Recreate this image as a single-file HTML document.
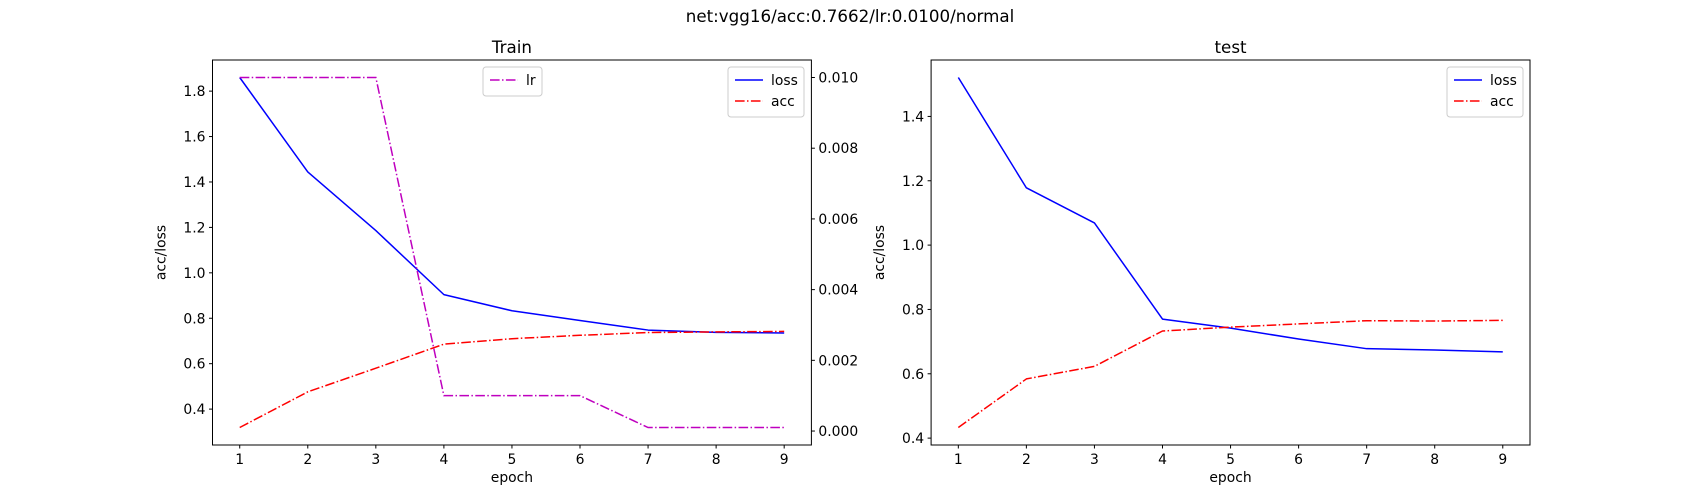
<!DOCTYPE html>
<html><head><meta charset="utf-8">
<style>
html,body{margin:0;padding:0;background:#fff;}
svg{display:block;font-family:"DejaVu Sans","Liberation Sans",sans-serif;}
</style></head>
<body>
<svg id="fig" width="1700" height="500" viewBox="0 0 1700 500" xmlns="http://www.w3.org/2000/svg">
<rect width="1700" height="500" fill="#fff"/>
<text x="850" y="22" text-anchor="middle" font-size="16.7">net:vgg16/acc:0.7662/lr:0.0100/normal</text>
</svg>
<script>
const epochs = [1,2,3,4,5,6,7,8,9];
const trainLoss = [1.860,1.444,1.186,0.904,0.833,0.790,0.748,0.738,0.735];
const trainAcc = [0.319,0.476,0.580,0.686,0.710,0.725,0.737,0.740,0.742];
const trainLr = [0.01,0.01,0.01,0.001,0.001,0.001,0.0001,0.0001,0.0001];
const testLoss = [1.521,1.178,1.069,0.770,0.742,0.708,0.678,0.674,0.668];
const testAcc = [0.433,0.584,0.623,0.733,0.745,0.755,0.765,0.764,0.766];
const xTicks = [1,2,3,4,5,6,7,8,9];
const trainYTicks = [0.4,0.6,0.8,1.0,1.2,1.4,1.6,1.8];
const testYTicks = [0.4,0.6,0.8,1.0,1.2,1.4];
const lrTicks = [0,0.002,0.004,0.006,0.008,0.010];

const NS = "http://www.w3.org/2000/svg";
const svg = document.getElementById('fig');
function el(tag, attrs, parent){
  const e = document.createElementNS(NS, tag);
  for (const k in attrs) e.setAttribute(k, attrs[k]);
  (parent||svg).appendChild(e);
  return e;
}
function ext(arrs){
  let mn=Infinity,mx=-Infinity;
  arrs.forEach(a=>a.forEach(v=>{mn=Math.min(mn,v);mx=Math.max(mx,v);}));
  const m=(mx-mn)*0.05; return [mn-m,mx+m];
}
const TOP=60, BOT=445;
const DASH="9.6,2.4,1.5,2.4";

function drawAxes(name, L, R, title, series, yTicks, right){
  const g = el('g',{});
  
  
  const xd = ext([epochs]);
  const xs = v => L + (v-xd[0])/(xd[1]-xd[0])*(R-L);
  const yd = ext(series.map(s=>s.data));
  const ys = v => BOT - (v-yd[0])/(yd[1]-yd[0])*(BOT-TOP);
  const t = el('text',{x:(L+R)/2,y:TOP-7,'text-anchor':'middle','font-size':16.7},g);
  t.textContent = title;
  
  
  // x ticks
  xTicks.forEach(v=>{
    const x=xs(v);
    el('line',{x1:x,x2:x,y1:BOT,y2:BOT+3.5,stroke:'#000','stroke-width':1},g);
    const tx=el('text',{x:x,y:BOT+19,'text-anchor':'middle','font-size':13.9},g);
    tx.textContent=v;
    
    
  });
  yTicks.forEach(v=>{
    const y=ys(v);
    el('line',{x1:L-3.5,x2:L,y1:y,y2:y,stroke:'#000','stroke-width':1},g);
    const tx=el('text',{x:L-7,y:y+5,'text-anchor':'end','font-size':13.9},g);
    tx.textContent=v.toFixed(1);
    
    
  });
  const xl=el('text',{x:(L+R)/2,y:BOT+37,'text-anchor':'middle','font-size':13.9},g);
  xl.textContent='epoch';
  
  
  const yl=el('text',{x:0,y:0,'text-anchor':'middle','font-size':13.9,transform:`translate(${L-47},${(TOP+BOT)/2}) rotate(-90)`},g);
  yl.textContent='acc/loss';
  
  
  series.forEach(s=>{
    const p=el('polyline',{points:epochs.map((e,i)=>xs(e)+','+ys(s.data[i])).join(' '),fill:'none',stroke:s.color,'stroke-width':1.5,'stroke-dasharray':s.dash||'none','stroke-linejoin':'round'},g);
    
    
  });
  if (right){
    const ld=ext([right.data]);
    const yr=v=>BOT-(v-ld[0])/(ld[1]-ld[0])*(BOT-TOP);
    right.ticks.forEach(v=>{
      const y=yr(v);
      el('line',{x1:R,x2:R+3.5,y1:y,y2:y,stroke:'#000','stroke-width':1},g);
      const tx=el('text',{x:R+7,y:y+5,'text-anchor':'start','font-size':13.9},g);
      tx.textContent=v.toFixed(3);
      
      
    });
    const p=el('polyline',{points:epochs.map((e,i)=>xs(e)+','+yr(right.data[i])).join(' '),fill:'none',stroke:right.color,'stroke-width':1.5,'stroke-dasharray':DASH},g);
    
    
  }
  const fr=el('rect',{x:L,y:TOP,width:R-L,height:BOT-TOP,fill:'none',stroke:'#000','stroke-width':1},g);
  
  
  return g;
}
function legend(name, x, y, w, items){
  const g=el('g',{});
  
  
  el('rect',{x:x,y:y,width:w,height:8+items.length*21,rx:3,fill:'#fff','fill-opacity':0.8,stroke:'#ccc','stroke-width':1},g);
  items.forEach((it,i)=>{
    const cy=y+13+i*21;
    el('line',{x1:x+7,x2:x+35,y1:cy,y2:cy,stroke:it.color,'stroke-width':1.5,'stroke-dasharray':it.dash||'none'},g);
    const t=el('text',{x:x+43,y:cy+5,'font-size':13.9},g);
    t.textContent=it.label;
    
    
  });
}
drawAxes('train-chart',212.5,811.4,'Train',
  [{label:'loss',data:trainLoss,color:'#0000ff'},{label:'acc',data:trainAcc,color:'#ff0000',dash:DASH}],
  trainYTicks,{data:trainLr,ticks:lrTicks,color:'#bf00bf'});
drawAxes('test-chart',931.1,1530,'test',
  [{label:'loss',data:testLoss,color:'#0000ff'},{label:'acc',data:testAcc,color:'#ff0000',dash:DASH}],
  testYTicks,null);
legend('train-legend',728,67,76,[{label:'loss',color:'#0000ff'},{label:'acc',color:'#ff0000',dash:DASH}]);
legend('lr-legend',483,67,59,[{label:'lr',color:'#bf00bf',dash:DASH}]);
legend('test-legend',1447,67,76,[{label:'loss',color:'#0000ff'},{label:'acc',color:'#ff0000',dash:DASH}]);
</script>
</body></html>
